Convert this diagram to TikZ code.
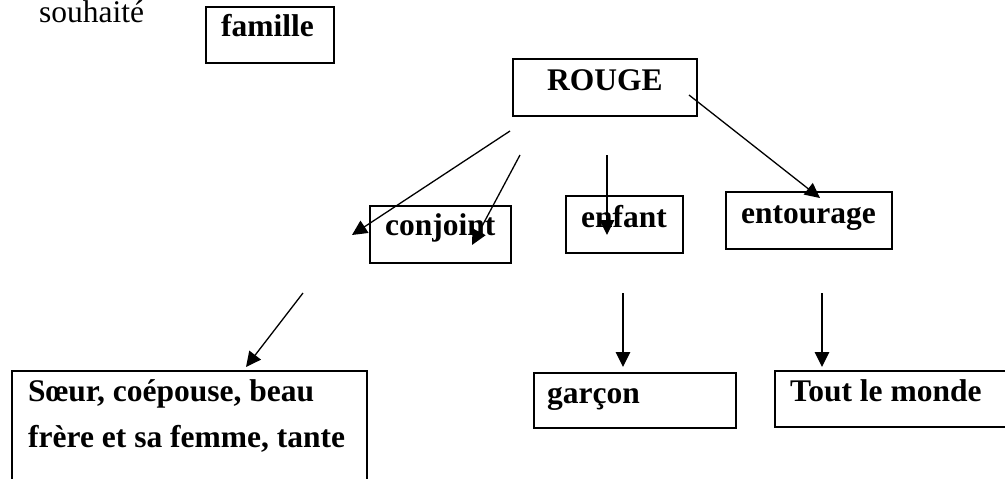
\documentclass[tikz,border=0pt]{standalone}
\usepackage{fontspec}
\setmainfont{Liberation Serif}
\usetikzlibrary{arrows.meta}
\begin{document}
\begin{tikzpicture}[x=1pt,y=-1pt,
  box/.style={draw,line width=2pt,rectangle,inner sep=0pt,outer sep=0pt},
  lbl/.style={anchor=base west,inner sep=0pt,font=\fontsize{31.5}{46}\selectfont\bfseries},
  plain/.style={anchor=base west,inner sep=0pt,font=\fontsize{31.5}{46}\selectfont},
  arr/.style={line width=1.3pt,-{Triangle[length=15pt,width=14.5pt]}}]
\useasboundingbox (0,0) rectangle (1005,479);

% boxes
\node[box,minimum width=128pt,minimum height=56pt] (famille) at (270,35) {};
\node[box,minimum width=184pt,minimum height=57pt] (rouge) at (605,87.5) {};
\node[box,minimum width=141pt,minimum height=57pt] (conjoint) at (440.5,234) {};
\node[box,minimum width=117pt,minimum height=57pt] (enfant) at (624,224) {};
\node[box,minimum width=166pt,minimum height=57pt] (entourage) at (809,220.5) {};
\node[box,minimum width=255pt,minimum height=56pt] (monde) at (902.5,399) {};
\node[box,minimum width=202pt,minimum height=55pt] (garcon) at (635,400.5) {};
\node[box,minimum width=355pt,minimum height=129pt] (soeur) at (189.5,435.5) {};

% texts
\node[plain] (tSouhaite) at (39,22.5) {souhaité};
\node[lbl] (tFamille) at (221,36) {famille};
\node[lbl] (tRouge) at (547,90) {ROUGE};
\node[lbl] (tConjoint) at (385,235) {conjoint};
\node[lbl] (tEnfant) at (581,227) {enfant};
\node[lbl] (tEntourage) at (741,223) {entourage};
\node[lbl] (tMonde) at (790,401) {Tout le monde};
\node[lbl] (tGarcon) at (547,403) {garçon};
\node[lbl] (tSoeurA) at (28,401) {Sœur, coépouse, beau};
\node[lbl] (tSoeurB) at (28,447) {frère et sa femme, tante};

% arrow ends
\coordinate (a1s) at (510,131);  \coordinate (a1e) at (352,235);
\coordinate (a2s) at (520,155);  \coordinate (a2e) at (472,245);
\coordinate (a3s) at (607,155);  \coordinate (a3e) at (607,235);
\coordinate (a4s) at (689,95);   \coordinate (a4e) at (820,198);
\coordinate (a5s) at (822,293);  \coordinate (a5e) at (822,367);
\coordinate (a6s) at (623,293);  \coordinate (a6e) at (623,367);
\coordinate (a7s) at (303,293);  \coordinate (a7e) at (246,367);

% arrows
\draw[arr] (a1s) -- (a1e);
\draw[arr] (a2s) -- (a2e);
\draw[arr] (a3s) -- (a3e);
\draw[arr] (a4s) -- (a4e);
\draw[arr] (a5s) -- (a5e);
\draw[arr] (a6s) -- (a6e);
\draw[arr] (a7s) -- (a7e);
\end{tikzpicture}
\end{document}
